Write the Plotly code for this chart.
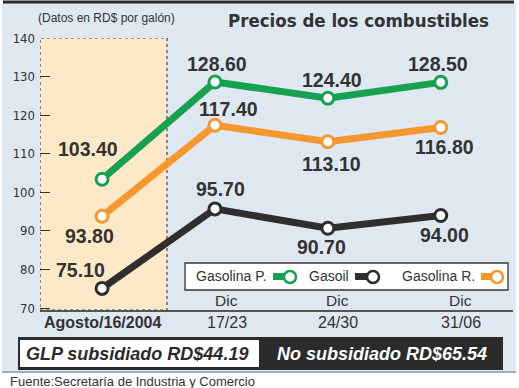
import plotly.graph_objects as go

categories = ["Agosto/16/2004", "Dic 17/23", "Dic 24/30", "Dic 31/06"]
tick_top = ["", "Dic", "Dic", "Dic"]
tick_bottom = ["<b>Agosto/16/2004</b>", "17/23", "24/30", "31/06"]
gasolina_p = [103.40, 128.60, 124.40, 128.50]
gasolina_r = [93.80, 117.40, 113.10, 116.80]
gasoil = [75.10, 95.70, 90.70, 94.00]
y_ticks = [70, 80, 90, 100, 110, 120, 130, 140]

W, H = 519, 388
L, R, T, B = 40, 6, 38, 78
PW, PH = W - L - R, H - T - B

def px(x):
    return (x - L) / PW

def py(y):
    return (H - B - y) / PH

GREEN = "#15a150"
ORANGE = "#f7982f"
BLACK = "#2e2e2e"
TXT = "#333333"
NARROW = "Liberation Sans Narrow, DejaVu Sans Condensed, Noto Sans Condensed, Roboto Condensed, Roboto, sans-serif"
SANS = "Liberation Sans, Arial, sans-serif"

xs = list(range(len(categories)))
fig = go.Figure()

series = [("Gasolina P.", gasolina_p, GREEN), ("Gasolina R.", gasolina_r, ORANGE), ("Gasoil", gasoil, BLACK)]
for name, vals, col in series:
    fig.add_trace(go.Scatter(
        x=xs, y=vals, mode="lines+markers", name=name,
        line=dict(color=col, width=7),
        marker=dict(size=12, color="white", line=dict(color=col, width=3)),
        showlegend=False, hoverinfo="skip"))

offsets = {
    "Gasolina P.": [(-14, -30), (2, -18), (4, -18), (-3, -18)],
    "Gasolina R.": [(-13, 20), (14, -16), (4, 22), (4, 19)],
    "Gasoil": [(-22, -18), (6, -20), (-6, 19), (4, 20)],
}
ann = []

def A(x, y, text, size, color=TXT, family=SANS, xanchor="center", xref="paper", yref="paper", **kw):
    ann.append(dict(x=x, y=y, xref=xref, yref=yref, text=text, showarrow=False,
                    xanchor=xanchor, yanchor="middle",
                    font=dict(family=family, size=size, color=color), **kw))

for name, vals, col in series:
    for i, v in enumerate(vals):
        dx, dy = offsets[name][i]
        A(xs[i], v, "<b>%.2f</b>" % v, 19.5, xref="x", yref="y", xshift=dx, yshift=-dy)

shapes = []
shapes.append(dict(type="rect", xref="paper", yref="paper", x0=px(2), x1=px(516), y0=py(371), y1=py(3),
                   fillcolor="#dfe8f0", line=dict(width=0), layer="below"))
shapes.append(dict(type="line", xref="paper", yref="paper", x0=px(2), x1=px(516), y0=py(372), y1=py(372),
                   line=dict(color="#8a9099", width=1.5), layer="below"))
shapes.append(dict(type="rect", xref="paper", yref="paper", x0=px(3), x1=px(514), y0=py(3.5), y1=py(0.5),
                   fillcolor="#2b2b2b", line=dict(width=0), layer="below"))
shapes.append(dict(type="rect", xref="x", yref="y", x0=-0.55, x1=0.575, y0=69.5, y1=140,
                   fillcolor="#fde9c8", line=dict(color="#444", width=1.2, dash="dot"), layer="below"))

# legend box
shapes.append(dict(type="rect", xref="paper", yref="paper", x0=px(185), x1=px(508), y0=py(290), y1=py(263),
                   fillcolor="white", line=dict(color="#333", width=1.3)))
leg_items = [("Gasolina P.", GREEN, 231, 273, 290), ("Gasoil", BLACK, 329, 355, 373), ("Gasolina R.", ORANGE, 438, 481, 497)]
for name, col, tx, rx, cx in leg_items:
    A(px(tx), py(276), name, 14)
    shapes.append(dict(type="rect", xref="paper", yref="paper", x0=px(rx), x1=px(rx + 13), y0=py(280), y1=py(273),
                       fillcolor=col, line=dict(width=0)))
    shapes.append(dict(type="circle", xref="paper", yref="paper", x0=px(cx - 6), x1=px(cx + 6), y0=py(283), y1=py(271),
                       fillcolor="white", line=dict(color=col, width=2.5)))

label_shift = [0, 12, 10, 20]
for i in xs:
    if tick_top[i]:
        A(i, py(300), tick_top[i], 15.5, xref="x", xshift=label_shift[i])
    A(i, py(322), tick_bottom[i], 16, xref="x", xshift=label_shift[i])

shapes.append(dict(type="rect", xref="paper", yref="paper", x0=px(18), x1=px(503), y0=py(370), y1=py(337),
                   fillcolor="#2b2b2b", line=dict(width=0)))
shapes.append(dict(type="rect", xref="paper", yref="paper", x0=px(20), x1=px(259), y0=py(367), y1=py(340),
                   fillcolor="white", line=dict(width=0)))
A(px(137), py(354), "<b><i>GLP subsidiado RD$44.19</i></b>", 18, color="#2b2b2b")
A(px(382), py(354), "<b><i>No subsidiado RD$65.54</i></b>", 18, color="white")

A(px(36), py(18), "(Datos en RD$ por galón)", 12, xanchor="left")
A(px(226), py(20), "<b>Precios de los combustibles</b>", 18.5, family=NARROW, xanchor="left")
A(px(8), py(381), "Fuente:Secretaría de Industria y Comercio", 13, xanchor="left")

fig.update_layout(
    width=W, height=H, margin=dict(l=L, r=R, t=T, b=B),
    paper_bgcolor="white", plot_bgcolor="rgba(0,0,0,0)",
    shapes=shapes, annotations=ann, showlegend=False,
    xaxis=dict(range=[-0.55, 3.64], showgrid=False, zeroline=False, showticklabels=False,
               showline=True, linecolor="#555", linewidth=2, ticks=""),
    yaxis=dict(range=[69.5, 140], tickvals=y_ticks, showgrid=False, zeroline=False, showline=False,
               ticks="inside", ticklen=10, tickcolor="#333", tickwidth=1,
               tickfont=dict(family=NARROW, size=13, color=TXT), ticklabelstandoff=4),
)
fig.write_html("out.html", config={"displayModeBar": False},
               post_script="document.body.style.margin='0';")
